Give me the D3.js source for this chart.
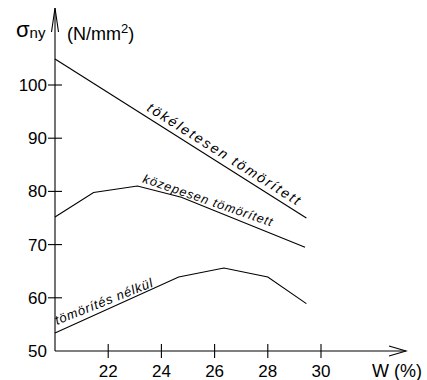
<!DOCTYPE html>
<html><head><meta charset="utf-8">
<script src="https://cdn.jsdelivr.net/npm/d3@7"></script>
<style>body{margin:0;background:#fff}svg{display:block}text{font-family:"Liberation Sans",Arial,sans-serif;fill:#000}</style>
</head><body><svg id="c" width="427" height="380"></svg>
<script>
// Data
const xTicks = [22, 24, 26, 28, 30];
const yTicks = [50, 60, 70, 80, 90, 100];
const topX = [20, 29.45];
const topY = [104.9, 75.0];
const midX = [20, 21.45, 23.1, 24.75, 29.4];
const midY = [75.2, 79.8, 81.0, 78.9, 69.5];
const botX = [20, 24.65, 26.35, 28.0, 29.45];
const botY = [53.4, 63.9, 65.6, 63.9, 58.9];
const labels = ["tökéletesen tömörített", "közepesen tömörített", "tömörítés nélkül"];

const svg = d3.select("#c");
const x = d3.scaleLinear().domain([20, 30]).range([55, 321]);
const y = d3.scaleLinear().domain([50, 100]).range([351, 85]);
const x0 = x(20), y0 = y(50);

// axes
const g = svg.append("g").attr("stroke", "#000").attr("stroke-width", 1.1).attr("fill", "none");
g.append("line").attr("x1", x0).attr("y1", y0).attr("x2", 406).attr("y2", y0);
g.append("path").attr("d", `M389,${y0-5}L406,${y0}L389,${y0+5}`);
g.append("line").attr("x1", x0).attr("y1", y0).attr("x2", x0).attr("y2", 8);
g.append("path").attr("d", `M${x0-3.5},32L${x0},8L${x0+3.5},32`);

// ticks
xTicks.forEach(t => {
  g.append("line").attr("x1", x(t)).attr("x2", x(t)).attr("y1", y0-7).attr("y2", y0+7);
  svg.append("text").attr("x", x(t)).attr("y", 377).attr("text-anchor", "middle")
    .attr("font-size", 17).text(t);
});
yTicks.forEach(t => {
  if (t !== 50) g.append("line").attr("x1", x0-7).attr("x2", x0+7).attr("y1", y(t)).attr("y2", y(t));
  svg.append("text").attr("x", 47).attr("y", y(t)+6).attr("text-anchor", "end")
    .attr("font-size", 17).text(t);
});

// axis titles
const yl = svg.append("text").attr("x", 16).attr("y", 37).attr("font-size", 22);
yl.append("tspan").text("σ");
yl.append("tspan").attr("font-size", 15).attr("dy", 1).text("ny");
const ul = svg.append("text").attr("x", 67).attr("y", 40).attr("font-size", 18);
ul.append("tspan").text("(N/mm");
ul.append("tspan").attr("font-size", 13).attr("dy", -7).text("2");
ul.append("tspan").attr("dy", 7).text(")");
svg.append("text").attr("x", 372).attr("y", 377).attr("font-size", 18).text("W  (%)");

// lines
const line = d3.line().x(d => x(d[0])).y(d => y(d[1]));
const series = [d3.zip(topX, topY), d3.zip(midX, midY), d3.zip(botX, botY)];
series.forEach(s => svg.append("path").attr("d", line(s)).attr("fill", "none")
  .attr("stroke", "#000").attr("stroke-width", 1.1));

// labels along lines
function label(txt, sx, sy, ang, len, fs) {
  svg.append("text").attr("transform", `translate(${sx},${sy}) rotate(${ang})`)
    .attr("font-size", fs).attr("font-style", "italic")
    .attr("textLength", len).attr("lengthAdjust", "spacing").text(txt);
}
const ang = (p, q) => Math.atan2(y(q[1]) - y(p[1]), x(q[0]) - x(p[0])) * 180 / Math.PI;
label(labels[0], x(23.35) + 2, y(topY[0] + (topY[1]-topY[0])*(3.35/9.45)) - 5, ang(series[0][0], series[0][1]), 178, 14);
label(labels[1], x(23.2) + 2, y(80.8) - 5, 19, 136, 12.5);
label(labels[2], x(20) + 2, y(53.4) - 8, -21.7, 104, 13);
</script></body></html>
